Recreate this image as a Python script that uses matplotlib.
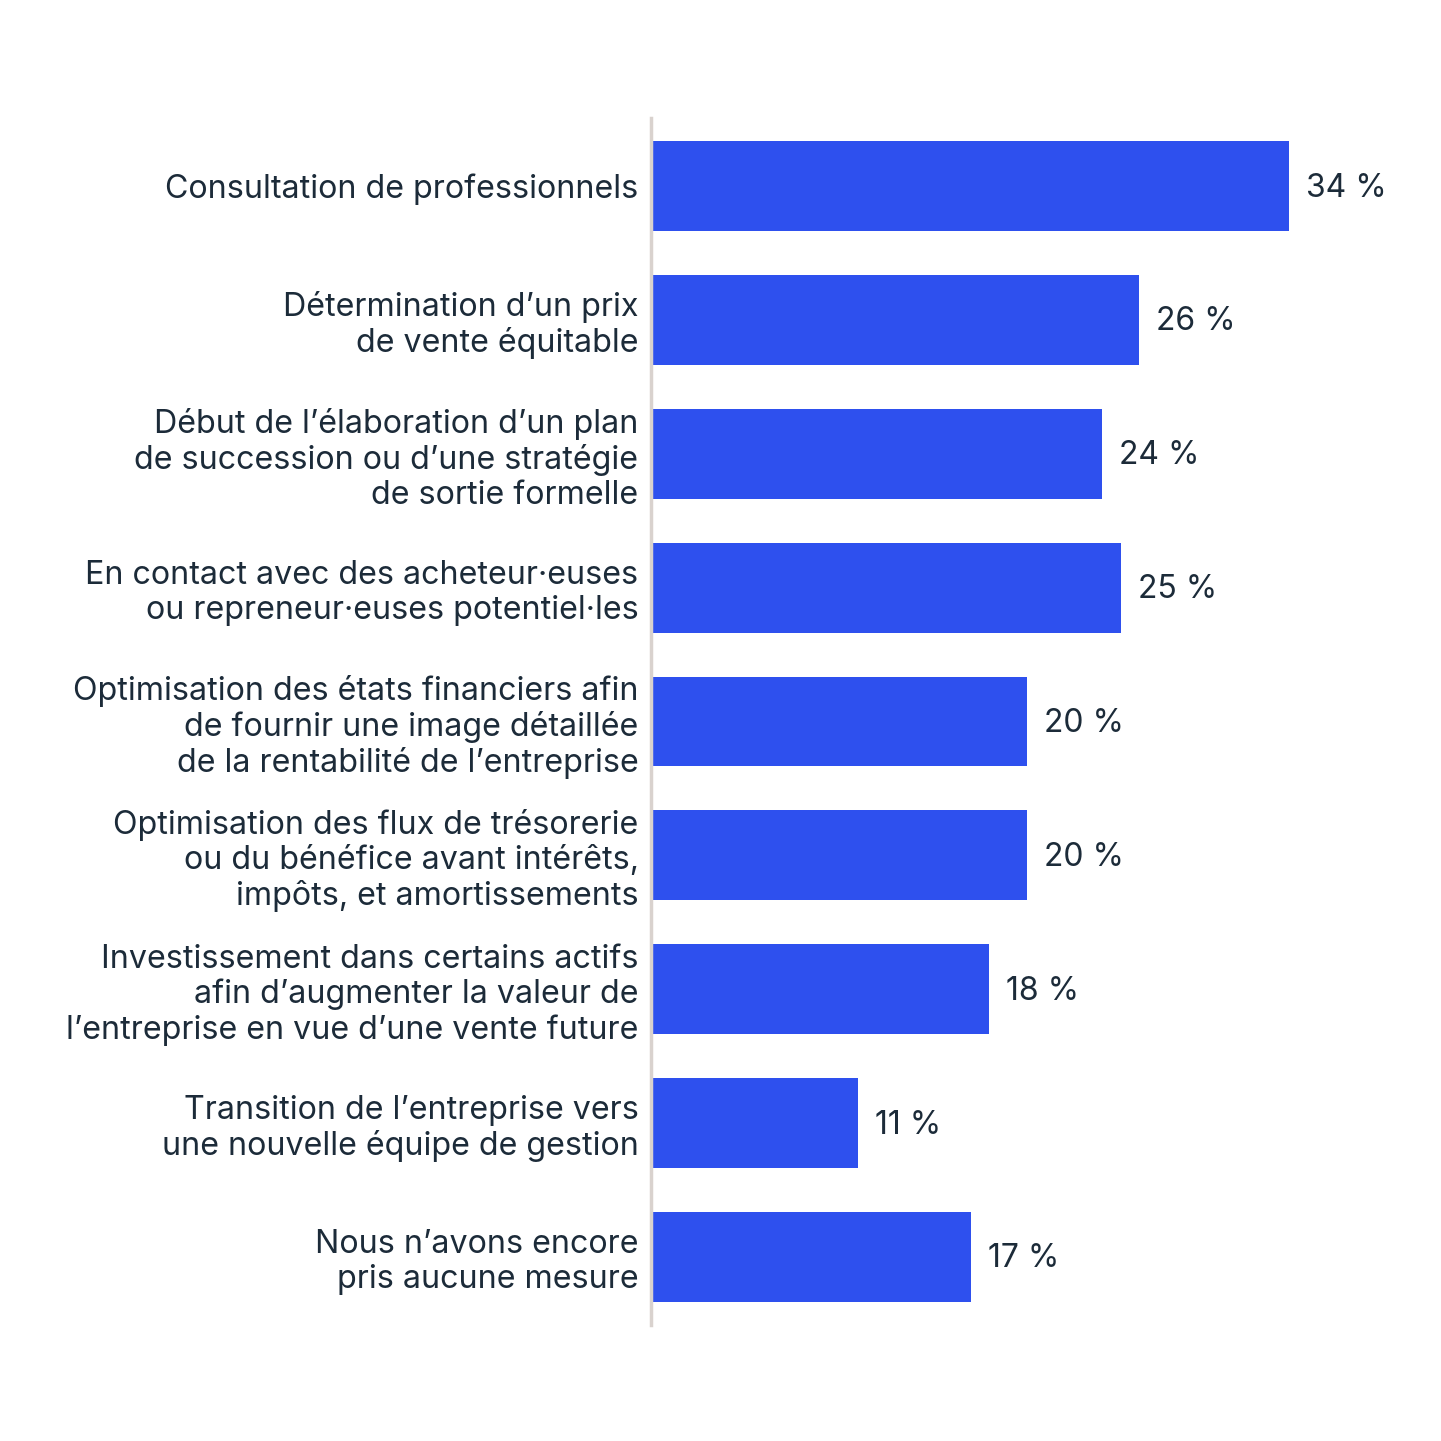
import matplotlib
matplotlib.use("Agg")
import matplotlib.pyplot as plt

categories = [
    "Consultation de professionnels",
    "Détermination d’un prix\nde vente équitable",
    "Début de l’élaboration d’un plan\nde succession ou d’une stratégie\nde sortie formelle",
    "En contact avec des acheteur·euses\nou repreneur·euses potentiel·les",
    "Optimisation des états financiers afin\nde fournir une image détaillée\nde la rentabilité de l’entreprise",
    "Optimisation des flux de trésorerie\nou du bénéfice avant intérêts,\nimpôts, et amortissements",
    "Investissement dans certains actifs\nafin d’augmenter la valeur de\nl’entreprise en vue d’une vente future",
    "Transition de l’entreprise vers\nune nouvelle équipe de gestion",
    "Nous n’avons encore\npris aucune mesure",
]
values = [34, 26, 24, 25, 20, 20, 18, 11, 17]
value_labels = ["34 %", "26 %", "24 %", "25 %", "20 %", "20 %", "18 %", "11 %", "17 %"]

plt.rcParams['font.family'] = ['Inter', 'DejaVu Sans']
TEXT = "#1c2b39"
BAR = "#2e50ee"

W = 1441
fig = plt.figure(figsize=(14.41, 14.41), dpi=100)
ax = fig.add_axes([651 / W, 116 / W, 750 / W, 1207 / W])

y = list(range(len(categories)))
ax.barh(y, values, height=0.672, color=BAR, left=0.05)
ax.set_xlim(0, 40)
ax.set_ylim(len(categories) - 0.5 + 0.008, -0.5 - 0.008)

for yi, v, lab in zip(y, values, value_labels):
    ax.annotate(lab, (v, yi), xytext=(18, -2), textcoords="offset pixels",
                va="center", ha="left", fontsize=23, color=TEXT)

ax.set_yticks(y)
ax.set_yticklabels(categories, fontsize=23.2, color=TEXT, linespacing=1.16)
ax.tick_params(axis="y", length=0, pad=9)
ax.set_xticks([])
for s in ["top", "right", "bottom"]:
    ax.spines[s].set_visible(False)
ax.spines["left"].set_color("#d9d2ce")
ax.spines["left"].set_linewidth(2.5)
for t in ax.get_yticklabels():
    t.set_ha("right")

fig.savefig("out.png", dpi=100, facecolor="white")
